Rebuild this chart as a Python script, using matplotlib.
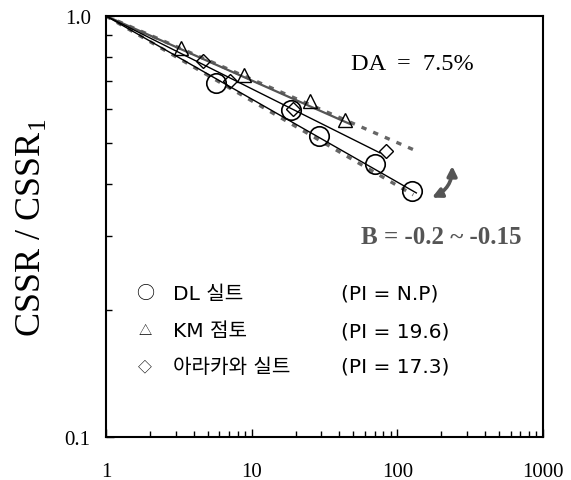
import numpy as np
import matplotlib.pyplot as plt
from matplotlib.patches import FancyArrowPatch
from matplotlib.ticker import LogLocator, NullFormatter, FixedLocator, FixedFormatter

plt.rcParams['font.family'] = ['Liberation Serif', 'DejaVu Serif']
plt.rcParams['mathtext.fontset'] = 'custom'
plt.rcParams['mathtext.rm'] = 'Liberation Serif'

# measured points (number of cycles vs CSSR / CSSR1)
dl_n = [5.7, 18.5, 29.0, 70.5, 127.0]
dl_r = [0.693, 0.598, 0.518, 0.446, 0.385]

km_n = [3.26, 8.85, 25.1, 43.9]
km_r = [0.838, 0.724, 0.629, 0.567]

ar_n = [4.65, 7.1, 19.1, 83.5]
ar_r = [0.782, 0.701, 0.601, 0.479]

# fitted lines (end points)
dl_fit_n = [1, 135]
dl_fit_r = [1, 0.380]
ar_fit_n = [1, 76]
ar_fit_r = [1, 0.473]
km_fit_n = [1, 47.3]
km_fit_r = [1, 0.554]

# B = -0.15 and B = -0.2 bounds
upper_n = [1, 139]
upper_r = [1, 0.476]
lower_n = [1, 128.6]
lower_r = [1, 0.376]

legend_rows = [('○', 'DL 실트', '(PI = N.P)'),
               ('△', 'KM 점토', '(PI = 19.6)'),
               ('◇', '아라카와 실트', '(PI = 17.3)')]

fig = plt.figure(figsize=(5.71, 4.81), dpi=100)
ax = fig.add_axes([106/571, 1 - 438/481, 437/571, 421/481])

dash_grey = '#666666'
ax.plot(upper_n, upper_r, color=dash_grey, lw=2.4, dashes=(1.6, 2.2), zorder=1)
ax.plot(lower_n, lower_r, color=dash_grey, lw=2.4, dashes=(1.6, 2.2), zorder=1)

ax.plot(km_fit_n, km_fit_r, color='#555555', lw=1.6, zorder=2)
ax.plot(ar_fit_n, ar_fit_r, color='black', lw=1.0, zorder=2)
ax.plot(dl_fit_n, dl_fit_r, color='black', lw=1.0, zorder=2)

ax.plot(dl_n, dl_r, 'o', ms=14, mfc='none', mec='black', mew=1.2, zorder=3)
ax.plot(km_n, km_r, '^', ms=10, mfc='none', mec='black', mew=1.0, zorder=3)
ax.plot(ar_n, ar_r, 'D', ms=7.5, mfc='none', mec='black', mew=1.0, zorder=3)

ax.set_xscale('log')
ax.set_yscale('log')
ax.set_xlim(1, 1000)
ax.set_ylim(0.1, 1.0)

ax.xaxis.set_major_locator(FixedLocator([1, 10, 100, 1000]))
ax.xaxis.set_major_formatter(FixedFormatter(['1', '10', '100', '1000']))
ax.xaxis.set_minor_locator(LogLocator(base=10, subs=np.arange(2, 10)))
ax.xaxis.set_minor_formatter(NullFormatter())
ax.yaxis.set_major_locator(FixedLocator([0.1, 1.0]))
ax.yaxis.set_major_formatter(FixedFormatter(['0.1', '1.0']))
ax.yaxis.set_minor_locator(LogLocator(base=10, subs=np.arange(2, 10)))
ax.yaxis.set_minor_formatter(NullFormatter())

ax.tick_params(which='both', direction='in', top=False, right=False, width=1.0, labelsize=15)
ax.tick_params(axis='x', which='major', length=6, pad=18)
ax.tick_params(axis='y', which='major', length=6, pad=11)
ax.tick_params(which='minor', length=4.5)
for s in ax.spines.values():
    s.set_linewidth(1.5)

ax.set_ylabel('CSSR / CSSR$_1$', fontsize=26, labelpad=12)

ax.text(0.70, 0.888, 'DA  =  7.5%', transform=ax.transAxes, fontsize=17.5,
        ha='center', va='center', color='black')
ax.text(0.768, 0.477, 'B = -0.2 ~ -0.15', transform=ax.transAxes, fontsize=18,
        fontweight='bold', ha='center', va='center', color='#555555')

arrow = FancyArrowPatch((166, 0.368), (238, 0.447), arrowstyle='<|-|>',
                        connectionstyle='arc3,rad=0.35', color='#555555', lw=2.6,
                        mutation_scale=14, zorder=4)
ax.add_patch(arrow)

kfont = ['DejaVu Sans', 'Noto Sans CJK KR']
sym_size = [13, 9.5, 10]
row_y = [0.342, 0.2525, 0.1686]
for (sym, name, pi), y, ss in zip(legend_rows, row_y, sym_size):
    ax.text(0.089, y, sym, transform=ax.transAxes, fontsize=ss,
            family=['Noto Sans CJK KR', 'DejaVu Sans'], ha='center', va='center')
    ax.text(0.153, y, name, transform=ax.transAxes, fontsize=14.5, family=kfont,
            ha='left', va='center')
    ax.text(0.537, y, pi, transform=ax.transAxes, fontsize=14.5, family=kfont,
            ha='left', va='center')

fig.savefig('out.png', dpi=100)
